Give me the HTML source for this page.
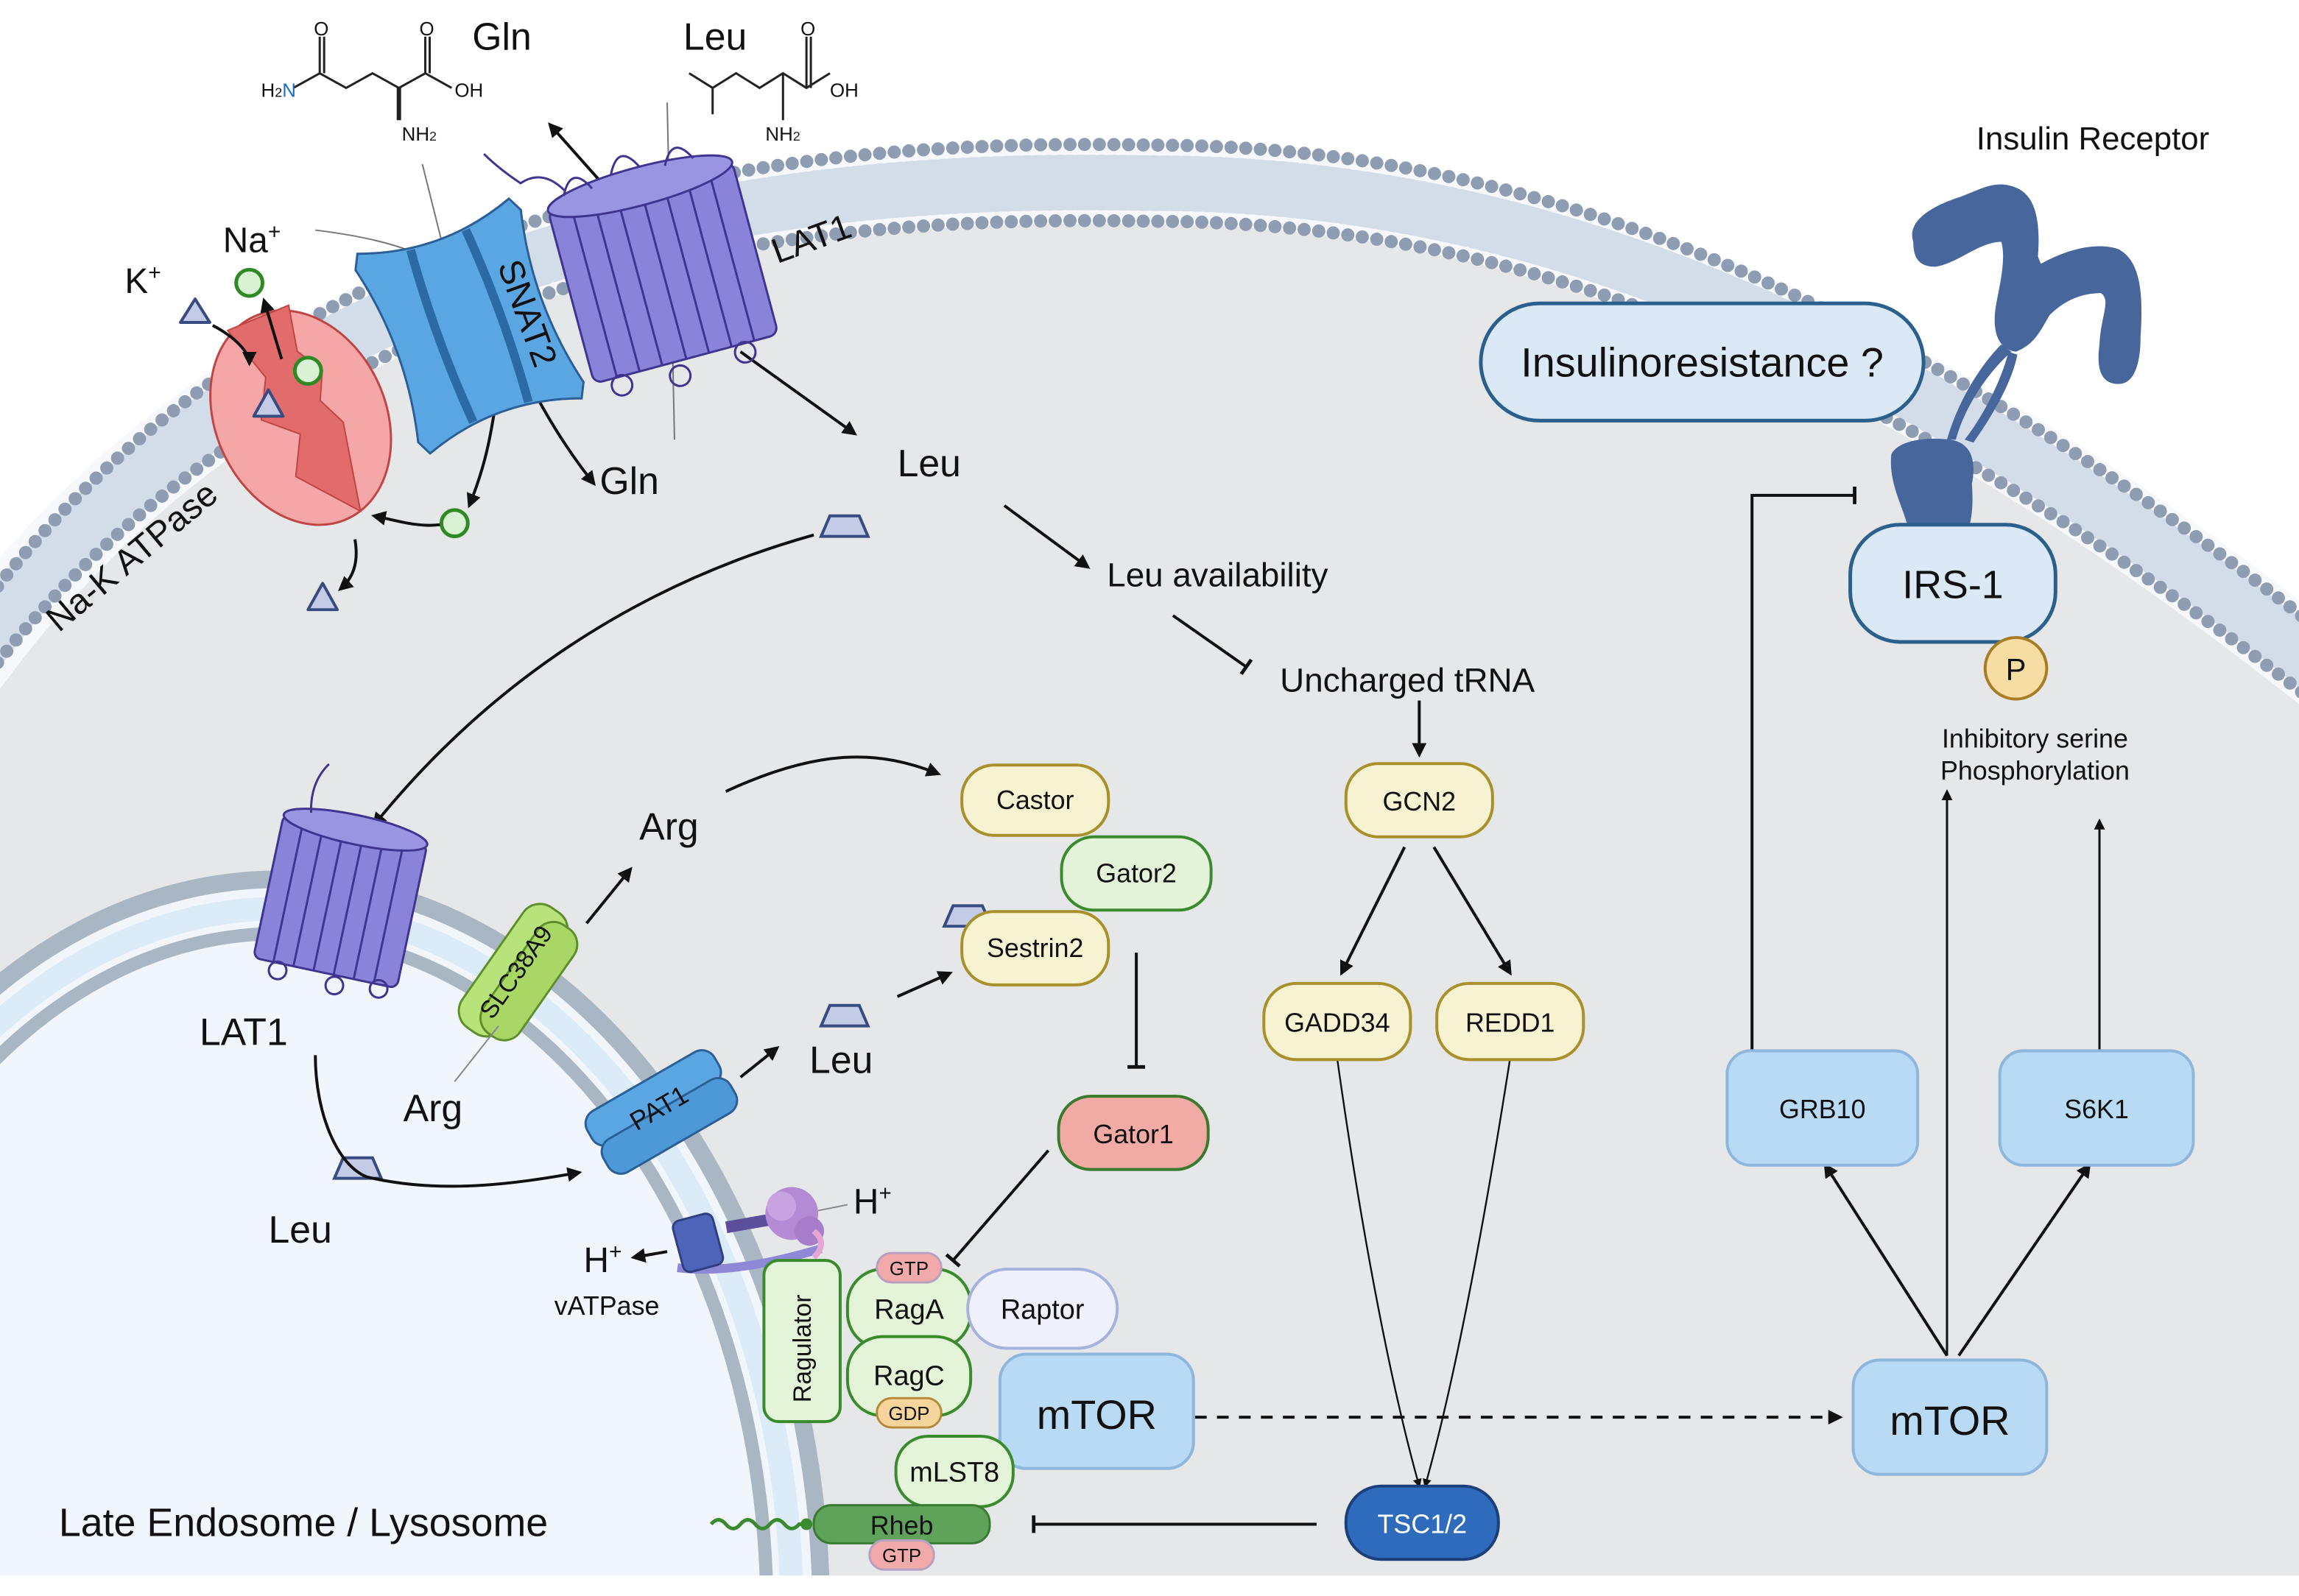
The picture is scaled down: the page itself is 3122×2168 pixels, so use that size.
<!DOCTYPE html>
<html><head><meta charset="utf-8"><style>html,body{margin:0;padding:0;background:#fff;width:3122px;height:2168px;overflow:hidden}svg{display:block;position:fixed;left:0;top:0}text{font-family:"Liberation Sans",sans-serif;fill:#111}</style></head>
<body>
<svg width="3122" height="2168" viewBox="0 0 1568 1089" xmlns="http://www.w3.org/2000/svg">
<defs>
<marker id="ah" viewBox="0 0 10 10" refX="8" refY="5" markerWidth="5" markerHeight="5" orient="auto-start-reverse"><path d="M0,0 L10,5 L0,10 z" fill="#111"/></marker>
<marker id="tb" viewBox="0 0 10 10" refX="5" refY="5" markerWidth="6" markerHeight="6" orient="auto"><path d="M5,0 L5,10" stroke="#111" stroke-width="2"/></marker>
<clipPath id="lyc"><path d="M-20,450 C200,150 550,120 785,125 C1050,125 1300,230 1600,470 L1600,1075 L-20,1075 z"/></clipPath>
</defs>
<rect width="1568" height="1089" fill="#fff"/>
<path d="M-20,450 C200,150 550,120 785,125 C1050,125 1300,230 1600,470 L1600,1075 L-20,1075 z" fill="#e6e7e9"/>
<g fill="none" stroke-linecap="round">
<path d="M-20,450 C200,150 550,120 785,125 C1050,125 1300,230 1600,470" stroke="#f6f8fb" stroke-width="56"/>
<path d="M-20,450 C200,150 550,120 785,125 C1050,125 1300,230 1600,470" stroke="#d3ddea" stroke-width="38" stroke-dasharray="1.2 6"/>
<path d="M-20,424 C200,124 550,94 785,99 C1050,99 1300,204 1600,444" stroke="#8e9db1" stroke-width="9" stroke-dasharray="0 10"/>
<path d="M-20,476 C200,176 550,146 785,151 C1050,151 1300,256 1600,496" stroke="#8e9db1" stroke-width="9" stroke-dasharray="0 10"/>
</g>
<g clip-path="url(#lyc)">
<ellipse cx="190" cy="1100" rx="370" ry="500" fill="#f1f6fc"/>
<ellipse cx="190" cy="1100" rx="370" ry="500" fill="none" stroke="#a9b7c4" stroke-width="12"/>
<ellipse cx="190" cy="1100" rx="350" ry="480" fill="none" stroke="#dcebf8" stroke-width="16"/>
<ellipse cx="190" cy="1100" rx="333" ry="463" fill="none" stroke="#a9b7c4" stroke-width="9"/>
</g>
<rect x="0" y="1076" width="1568" height="13" fill="#fff"/>

<g stroke="#222" stroke-width="1.5" fill="none">
<path d="M200,60 L218,50 L236,60 L254,50 L272,60 L290,50 L308,60"/>
<path d="M218,50 L218,25 M221,50 L221,25 M290,50 L290,25 M293,50 L293,25"/>
<path d="M272,60 L272,82" stroke-width="3"/>
<path d="M470,50 L486,60 L502,50 L518,60 L534,50 L550,60 L566,50 M486,60 L486,78"/>
<path d="M550,60 L550,25 M553,60 L553,25 M534,50 L534,82" />
</g>
<g font-size="13">
<text x="178" y="66" fill="#222">H<tspan font-size="9">2</tspan><tspan fill="#1b6fc0">N</tspan></text>
<text x="214" y="24" fill="#e22">O</text><text x="286" y="24" fill="#e22">O</text>
<text x="310" y="66">OH</text><text x="274" y="96" fill="#1b6fc0">NH<tspan font-size="9" fill="#222">2</tspan></text>
<text x="546" y="24" fill="#e22">O</text><text x="566" y="66">OH</text><text x="522" y="96" fill="#1b6fc0">NH<tspan font-size="9" fill="#222">2</tspan></text>
</g>
<text x="322" y="34" font-size="26">Gln</text>
<text x="466" y="34" font-size="26">Leu</text>

<g stroke="#777" stroke-width="1" fill="none">
<path d="M288,112 L320,240"/><path d="M455,70 L460,300"/><path d="M215,157 C280,165 310,180 330,210"/>
</g>

<g transform="rotate(-25 205 285)">
<ellipse cx="205" cy="285" rx="58" ry="76" fill="#f5a6a6" stroke="#c24545" stroke-width="1.5"/>
<path d="M185,210 L195,250 L180,275 L200,295 L185,320 L215,360 L230,300 L222,280 L232,262 L222,243 L230,212 z" fill="#e26b6b" stroke="#c24545" stroke-width="1"/>
</g>
<text x="0" y="0" font-size="24" transform="translate(40,432) rotate(-40)">Na-K ATPase</text>
<text x="85" y="200" font-size="24">K<tspan font-size="15" dy="-9">+</tspan></text>
<text x="152" y="172" font-size="24">Na<tspan font-size="15" dy="-9">+</tspan></text>
<g fill="#d9f2d3" stroke="#2f8a26" stroke-width="2.5">
<circle cx="170" cy="193" r="9"/><circle cx="210" cy="253" r="9"/><circle cx="310" cy="357" r="9"/></g>
<g fill="#c4cbe6" stroke="#394c82" stroke-width="2">
<path d="M133,204 L143,220 L123,220 z" stroke-linejoin="round"/>
<path d="M183,266 L193,284 L173,284 z" stroke-linejoin="round"/>
<path d="M220,398 L230,416 L210,416 z" stroke-linejoin="round"/>
<path d="M566,352 L586,352 L592,366 L560,366 z"/>
<path d="M234,790 L254,790 L260,804 L228,804 z"/>
<path d="M566,686 L586,686 L592,700 L560,700 z"/>
<path d="M650,618 L670,618 L676,632 L644,632 z"/>
</g>
<g stroke="#111" stroke-width="2" fill="none" marker-end="url(#ah)">
<path d="M145,222 C160,230 170,240 170,248"/>
<path d="M192,245 L180,205"/>
<path d="M300,358 C285,360 270,355 255,352"/>
<path d="M242,368 C245,385 240,395 232,402"/>
<path d="M340,260 C335,300 330,320 320,345"/>
<path d="M350,240 C370,280 385,305 405,330"/>
<path d="M415,130 L375,85"/>
<path d="M505,240 L583,296"/>
<path d="M555,365 C430,400 330,470 255,563"/>
<path d="M685,345 L742,387"/>
<path d="M968,478 L968,515"/>
<path d="M958,578 L915,664"/>
<path d="M978,578 L1030,664"/>
<path d="M495,540 C560,510 600,512 640,528"/>
<path d="M400,630 L430,593"/>
<path d="M505,735 L530,715"/>
<path d="M612,680 L648,664"/>
<path d="M215,720 C215,760 230,795 250,803 C300,815 350,808 395,800"/>
<path d="M455,854 L432,858"/>
<path d="M1328,925 L1245,795"/>
<path d="M1336,925 L1425,795"/>
<path d="M1328,925 L1328,540" stroke-width="1.5"/>
<path d="M1432,718 L1432,560" stroke-width="1.5"/>
<path d="M912,722 C930,850 950,950 968,1014" stroke-width="1.2"/>
<path d="M1030,722 C1010,850 990,950 972,1014" stroke-width="1.2"/>
</g>
<path d="M815,967 L1255,967" stroke="#111" stroke-width="2" stroke-dasharray="8 7" fill="none" marker-end="url(#ah)"/>
<g stroke="#111" stroke-width="2" fill="none" marker-end="url(#tb)">
<path d="M800,420 L850,455"/>
<path d="M775,650 L775,728"/>
<path d="M715,785 L650,860"/>
<path d="M898,1040 L705,1040"/>
<path d="M1195,718 L1195,338 L1265,338"/>
</g>

<g transform="rotate(-20 320 222)">
<path d="M265,150 Q320,170 375,150 L380,160 Q365,222 380,285 L375,295 Q320,275 265,295 L260,285 Q275,222 260,160 z" fill="#5aa6e2" stroke="#2b5f96" stroke-width="1.5"/>
<path d="M300,160 Q295,222 300,285 M340,160 Q345,222 340,285" stroke="#2b6aa4" stroke-width="6" fill="none"/>
<text x="0" y="0" font-size="24" transform="translate(352,190) rotate(90)">SNAT2</text>
</g>
<g stroke="#3f3590" stroke-width="1.5" fill="#8984da">
<g transform="rotate(-15 452 185)">
<rect x="387" y="125" width="130" height="122" rx="6"/>
<path d="M403,125 V247 M419,125 V247 M435,125 V247 M452,125 V247 M468,125 V247 M484,125 V247 M500,125 V247" fill="none"/>
<ellipse cx="452" cy="125" rx="65" ry="13" fill="#9a95e2"/>
<circle cx="405" cy="253" r="7" fill="none"/><circle cx="445" cy="257" r="7" fill="none"/><circle cx="492" cy="253" r="7" fill="none"/>
<path d="M400,118 q10,-20 20,0 M435,112 q10,-20 20,0 M472,116 q10,-20 20,0" fill="none"/>
</g>
<path d="M385,130 q-15,-15 -30,-5 q-15,-10 -25,-20" fill="none"/>
</g>
<text x="0" y="0" font-size="24" transform="translate(530,180) rotate(-20)">LAT1</text>
<text x="409" y="337" font-size="26">Gln</text>
<text x="612" y="325" font-size="26">Leu</text>
<text x="755" y="400" font-size="23">Leu availability</text>
<text x="873" y="472" font-size="23">Uncharged tRNA</text>

<g stroke="#3f3590" stroke-width="1.5" fill="#8984da" transform="rotate(12 232 615)">
<rect x="182" y="565" width="100" height="100" rx="5"/>
<path d="M196,565 V665 M210,565 V665 M224,565 V665 M238,565 V665 M252,565 V665 M266,565 V665" fill="none"/>
<ellipse cx="232" cy="565" rx="50" ry="10" fill="#9a95e2"/>
<circle cx="200" cy="670" r="6" fill="none"/><circle cx="240" cy="672" r="6" fill="none"/><circle cx="270" cy="668" r="6" fill="none"/>
<path d="M200,560 q-5,-20 5,-35" fill="none"/>
</g>
<text x="136" y="713" font-size="26">LAT1</text>
<g transform="rotate(-55 350 662)">
<rect x="300" y="645" width="100" height="34" rx="14" fill="#b8e27a" stroke="#5e8f2a" stroke-width="1.5"/>
<rect x="305" y="660" width="90" height="30" rx="13" fill="#a8d765" stroke="#5e8f2a" stroke-width="1.5"/>
<text x="350" y="670" font-size="17" text-anchor="middle">SLC38A9</text>
</g>
<path d="M340,700 L310,738" stroke="#888" stroke-width="1"/>
<text x="436" y="573" font-size="26">Arg</text>
<text x="275" y="765" font-size="26">Arg</text>
<g transform="rotate(-30 450 757)">
<rect x="400" y="735" width="100" height="26" rx="10" fill="#5aa6e2" stroke="#2b5f96" stroke-width="1.5"/>
<rect x="400" y="757" width="100" height="26" rx="10" fill="#4d98d6" stroke="#2b5f96" stroke-width="1.5"/>
<text x="450" y="762" font-size="18" text-anchor="middle">PAT1</text>
</g>
<text x="552" y="732" font-size="26">Leu</text>
<text x="183" y="848" font-size="26">Leu</text>
<g>
<path d="M462,865 Q500,870 560,852" stroke="#8e88d6" stroke-width="6" fill="none"/>
<rect x="495" y="830" width="40" height="8" fill="#5b4e9a" transform="rotate(-10 515 834)"/>
<rect x="462" y="830" width="28" height="36" rx="5" fill="#4d64b8" stroke="#2f3f82" stroke-width="1.5" transform="rotate(-15 476 848)"/>
<circle cx="540" cy="828" r="18" fill="#b38ad4"/><circle cx="533" cy="823" r="10" fill="#c7a3e2"/><circle cx="552" cy="840" r="10" fill="#a77cc9"/>
<path d="M555,840 q10,8 0,18" stroke="#e6a6d4" stroke-width="4" fill="none"/>
</g>
<path d="M558,826 L578,822" stroke="#888" stroke-width="1"/>
<text x="582" y="828" font-size="24">H<tspan font-size="15" dy="-9">+</tspan></text>
<text x="398" y="868" font-size="24">H<tspan font-size="15" dy="-9">+</tspan></text>
<text x="378" y="897" font-size="18">vATPase</text>

<rect x="521" y="860" width="52" height="110" rx="10" fill="#e4f4d9" stroke="#3a8a2e" stroke-width="2"/>
<text x="0" y="0" font-size="17" transform="translate(553,957) rotate(-90)">Ragulator</text>
<rect x="578" y="866" width="84" height="54" rx="24" fill="#e4f4d9" stroke="#3a8a2e" stroke-width="2"/>
<rect x="578" y="912" width="84" height="54" rx="24" fill="#e4f4d9" stroke="#3a8a2e" stroke-width="2"/>
<text x="620" y="900" font-size="19" text-anchor="middle">RagA</text>
<text x="620" y="945" font-size="19" text-anchor="middle">RagC</text>
<rect x="598" y="855" width="44" height="20" rx="10" fill="#f2a9a9" stroke="#b8a0c0" stroke-width="1.5"/>
<text x="620" y="870" font-size="13" text-anchor="middle">GTP</text>
<rect x="598" y="954" width="44" height="20" rx="10" fill="#f6d59d" stroke="#b58a3a" stroke-width="1.5"/>
<text x="620" y="969" font-size="13" text-anchor="middle">GDP</text>
<rect x="660" y="866" width="102" height="54" rx="27" fill="#eef1fb" stroke="#a5b2de" stroke-width="2"/>
<text x="711" y="900" font-size="19" text-anchor="middle">Raptor</text>
<rect x="682" y="924" width="132" height="78" rx="18" fill="#b9daf4" stroke="#8fb6dc" stroke-width="2"/>
<text x="748" y="975" font-size="28" text-anchor="middle">mTOR</text>
<rect x="611" y="980" width="80" height="48" rx="22" fill="#e4f4d9" stroke="#3a8a2e" stroke-width="2"/>
<text x="651" y="1011" font-size="19" text-anchor="middle">mLST8</text>
<path d="M485,1040 q5,-6 10,0 q5,6 10,0 q5,-6 10,0 q5,6 10,0 q5,-6 10,0 q5,6 10,0 L550,1040" stroke="#3a8a2e" stroke-width="2.5" fill="none"/>
<circle cx="550" cy="1040" r="4" fill="#3a8a2e"/>
<rect x="555" y="1027" width="120" height="26" rx="12" fill="#5fa35a" stroke="#3a7a35" stroke-width="1.5"/>
<text x="615" y="1047" font-size="18" text-anchor="middle">Rheb</text>
<rect x="593" y="1051" width="44" height="20" rx="10" fill="#f2a9a9" stroke="#b8a0c0" stroke-width="1.5"/>
<text x="615" y="1066" font-size="13" text-anchor="middle">GTP</text>
<text x="40" y="1048" font-size="27">Late Endosome / Lysosome</text>

<rect x="656" y="522" width="100" height="48" rx="22" fill="#f7f3d2" stroke="#a8902c" stroke-width="2"/>
<text x="706" y="552" font-size="18" text-anchor="middle">Castor</text>
<rect x="724" y="571" width="102" height="50" rx="22" fill="#e3f3da" stroke="#3a8a2e" stroke-width="2"/>
<text x="775" y="602" font-size="18" text-anchor="middle">Gator2</text>
<rect x="656" y="622" width="100" height="50" rx="22" fill="#f7f3d2" stroke="#a8902c" stroke-width="2"/>
<text x="706" y="653" font-size="18" text-anchor="middle">Sestrin2</text>
<rect x="722" y="748" width="102" height="50" rx="22" fill="#f2aaa5" stroke="#3a7a2e" stroke-width="2"/>
<text x="773" y="780" font-size="18" text-anchor="middle">Gator1</text>

<rect x="918" y="521" width="100" height="50" rx="22" fill="#f7f3d2" stroke="#a8902c" stroke-width="2"/>
<text x="968" y="553" font-size="18" text-anchor="middle">GCN2</text>
<rect x="862" y="671" width="100" height="52" rx="22" fill="#f7f3d2" stroke="#a8902c" stroke-width="2"/>
<text x="912" y="704" font-size="18" text-anchor="middle">GADD34</text>
<rect x="980" y="671" width="100" height="52" rx="22" fill="#f7f3d2" stroke="#a8902c" stroke-width="2"/>
<text x="1030" y="704" font-size="18" text-anchor="middle">REDD1</text>
<rect x="918" y="1014" width="104" height="50" rx="24" fill="#2f6bbd" stroke="#1d3f7a" stroke-width="2"/>
<text x="970" y="1046" font-size="18" text-anchor="middle" style="fill:#fff">TSC1/2</text>

<rect x="1264" y="928" width="132" height="78" rx="18" fill="#b9daf4" stroke="#8fb6dc" stroke-width="2"/>
<text x="1330" y="979" font-size="28" text-anchor="middle">mTOR</text>
<rect x="1178" y="717" width="130" height="78" rx="16" fill="#b9daf4" stroke="#8fb6dc" stroke-width="2"/>
<text x="1243" y="763" font-size="18" text-anchor="middle">GRB10</text>
<rect x="1364" y="717" width="132" height="78" rx="16" fill="#b9daf4" stroke="#8fb6dc" stroke-width="2"/>
<text x="1430" y="763" font-size="18" text-anchor="middle">S6K1</text>
<text x="1388" y="510" font-size="18" text-anchor="middle">Inhibitory serine</text>
<text x="1388" y="532" font-size="18" text-anchor="middle">Phosphorylation</text>

<g fill="#46669c">
<path d="M1305,165 C1300,150 1320,140 1335,135 C1350,130 1360,122 1375,128 C1388,133 1392,150 1390,175 L1392,180 C1410,170 1430,165 1445,170 C1460,178 1462,200 1460,230 C1460,250 1455,262 1445,262 C1432,262 1430,250 1432,235 C1433,215 1440,205 1433,200 C1420,200 1408,205 1398,215 C1392,225 1388,235 1375,240 C1362,238 1358,225 1362,205 C1365,190 1368,175 1365,165 C1350,165 1335,180 1320,182 C1308,182 1305,175 1305,165 z"/>
<path d="M1365,235 C1350,250 1335,275 1328,300 L1334,300 C1340,278 1355,255 1372,240 z"/>
<path d="M1370,240 C1365,260 1352,285 1340,300 L1346,302 C1358,285 1372,262 1376,242 z"/>
<path d="M1290,310 C1295,300 1315,298 1330,300 C1345,302 1348,315 1345,330 C1346,345 1345,355 1342,362 L1302,362 C1298,345 1288,330 1290,310 z"/>
</g>
<text x="1348" y="102" font-size="22">Insulin Receptor</text>
<rect x="1010" y="207" width="302" height="80" rx="40" fill="#dbe9f6" stroke="#2b5f8c" stroke-width="2.5"/>
<text x="1161" y="257" font-size="28" text-anchor="middle">Insulinoresistance ?</text>
<rect x="1262" y="358" width="140" height="80" rx="34" fill="#dbe9f6" stroke="#2b5f8c" stroke-width="2.5"/>
<text x="1332" y="408" font-size="27" text-anchor="middle">IRS-1</text>
<circle cx="1375" cy="456" r="21" fill="#f5dda3" stroke="#a87c25" stroke-width="2"/>
<text x="1375" y="464" font-size="21" text-anchor="middle">P</text>
</svg>
</body></html>
